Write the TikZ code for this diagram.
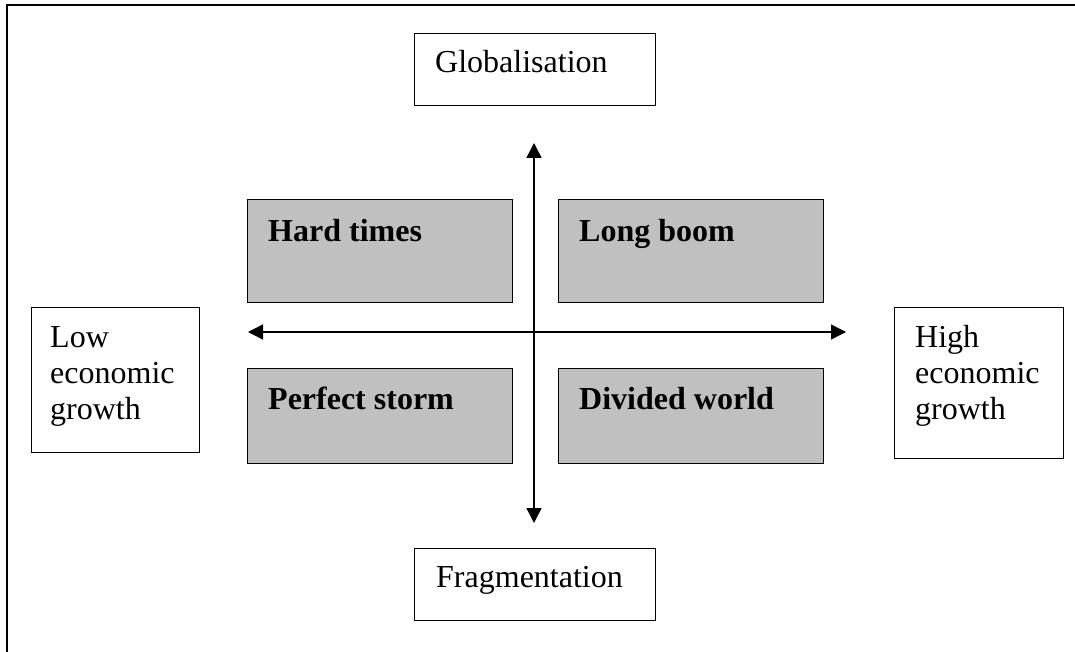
\documentclass[tikz,border=0pt]{standalone}
\usepackage{fontspec}
\setmainfont{Liberation Serif}
\usetikzlibrary{arrows.meta}
\usetikzlibrary{positioning}
\tikzset{>={Triangle[length=15pt,width=15pt]}}
\definecolor{boxgrey}{RGB}{192,192,192}
\tikzset{
  plainbox/.style={draw,line width=1.2pt,anchor=north west,inner sep=0pt},
  greybox/.style={plainbox,fill=boxgrey},
  boxtext/.style={anchor=base west,inner sep=0pt,align=left,font=\fontsize{32}{36}\selectfont},
}

\begin{document}
\begin{tikzpicture}[x=1pt,y=-1pt]
      \useasboundingbox (0,0) rectangle (1075,652);
      \draw[line width=2pt] (1075,5) -- (7,5) -- (7,652);
      \coordinate (W) at (248,332);
      \coordinate (E) at (846,332);
      \coordinate (N) at (534,143);
      \coordinate (S) at (534,523);
      \node[plainbox,minimum width=241pt,minimum height=72pt] (glob) at (414,33) {};
      \node[plainbox,minimum width=241pt,minimum height=72pt] (frag) at (414,548) {};
      \node[plainbox,minimum width=168pt,minimum height=145pt] (low) at (31,307) {};
      \node[plainbox,minimum width=169pt,minimum height=151pt] (high) at (894,307) {};
      \node[greybox,minimum width=265pt,minimum height=103pt] (hard) at (247,199) {};
      \node[greybox,minimum width=265pt,minimum height=103pt] (long) at (558,199) {};
      \node[greybox,minimum width=265pt,minimum height=95pt] (storm) at (247,368) {};
      \node[greybox,minimum width=265pt,minimum height=95pt] (divided) at (558,368) {};
      \draw[<->,line width=1.5pt] (W) -- (E);
      \draw[<->,line width=1.5pt] (N) -- (S);
      \node[boxtext] (globt) at ([shift={(21,40)}]glob.north west) {Globalisation};
      \node[boxtext] (fragt) at ([shift={(22,39)}]frag.north west) {Fragmentation};
      % base is the last line here
      \node[boxtext] (lowt) at ([shift={(19,112)}]low.north west) {Low\\economic\\growth};
      \node[boxtext] (hight) at ([shift={(21,112)}]high.north west) {High\\economic\\growth};
      \node[boxtext,font=\fontsize{32}{36}\selectfont\bfseries] (hardt) at ([shift={(21,42)}]hard.north west) {Hard times};
      \node[boxtext,font=\fontsize{32}{36}\selectfont\bfseries] (longt) at ([shift={(21,42)}]long.north west) {Long boom};
      \node[boxtext,font=\fontsize{32}{36}\selectfont\bfseries] (stormt) at ([shift={(21,41)}]storm.north west) {Perfect storm};
      \node[boxtext,font=\fontsize{32}{36}\selectfont\bfseries] (dividedt) at ([shift={(21,41)}]divided.north west) {Divided world};
    \end{tikzpicture}
\end{document}
